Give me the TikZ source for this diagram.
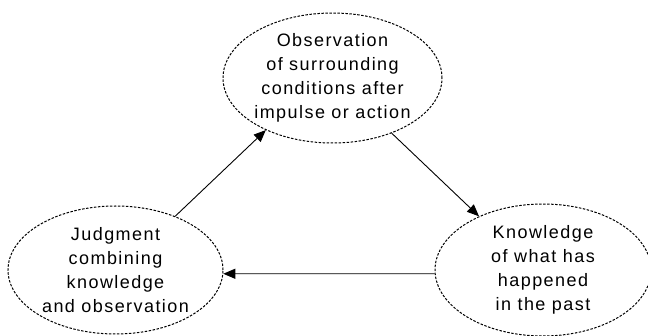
\documentclass[tikz,border=0pt]{standalone}
\usepackage{fontspec}
\setmainfont{Liberation Sans}[LetterSpace=8]
\usepackage{tikz}
\usetikzlibrary{shapes.geometric,arrows.meta}

\tikzset{bubble/.style={ellipse,draw,dash pattern=on 2.5pt off 1.5pt,line width=1pt,
    align=center,inner xsep=-4pt,inner ysep=0pt,font=\fontsize{18}{24}\selectfont}}

\begin{document}
\begin{tikzpicture}[x=1pt,y=1pt,->,>={Triangle[length=12pt,width=10pt]},line width=0.9pt]
		\useasboundingbox (0,0) rectangle (648,335);
		\node[bubble,minimum width=219pt,minimum height=130pt]
		(node1) at (332.5,257) 	{Observation\\of surrounding\\conditions after\\impulse or action};
		\node[bubble,minimum width=216pt,minimum height=132pt]
		(node2) at (543,65) 		{Knowledge\\of what has\\happened\\in the past};
		\node[bubble,minimum width=215pt,minimum height=128pt]
		(node3) at (115.5,65) 	{Judgment\\combining\\knowledge\\and observation};

		\path[->] (node3.42) edge (node1.218);
		\path[->] (node1.317) edge (node2.140);
		\path[->] (node2.182) edge (node3.-2);
\end{tikzpicture}
\end{document}
